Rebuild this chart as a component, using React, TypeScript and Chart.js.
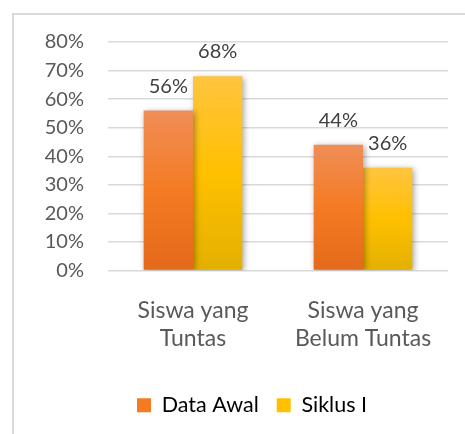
import React, { useEffect, useRef } from "react";
import { Chart, registerables } from "chart.js";

Chart.register(...registerables);

const categories: string[][] = [["Siswa yang", "Tuntas"], ["Siswa yang", "Belum Tuntas"]];
const seriesNames = ["Data Awal", "Siklus I"];
const dataAwal = [0.56, 0.44];
const siklus1 = [0.68, 0.36];
const yMin = 0;
const yMax = 0.8;
const yStep = 0.1;

const FONT = "Lato, 'Open Sans', sans-serif";

const gradStops = [
  ["#F08D58", "#F47B22", "#E4691B"],
  ["#FFC43F", "#FFC000", "#E3B000"],
];

function makeGradient(ctx: any, dsIndex: number) {
  const chart = ctx.chart;
  const stops = gradStops[dsIndex];
  if (!chart.chartArea || ctx.raw === undefined) return stops[1];
  const ys = chart.scales.y;
  const top = ys.getPixelForValue(ctx.raw);
  const bottom = ys.getPixelForValue(0);
  const g = chart.ctx.createLinearGradient(0, top, 0, bottom);
  g.addColorStop(0, stops[0]);
  g.addColorStop(0.5, stops[1]);
  g.addColorStop(1, stops[2]);
  return g;
}

const framePlugin = {
  id: "frame",
  beforeDraw(chart: any) {
    const c = chart.ctx;
    c.save();
    c.fillStyle = "#ffffff";
    c.fillRect(0, 0, chart.width, chart.height);
    c.strokeStyle = "#D9D9D9";
    c.lineWidth = 2;
    c.beginPath();
    c.moveTo(13, chart.height + 5);
    c.lineTo(13, 14);
    c.lineTo(chart.width + 5, 14);
    c.stroke();
    c.restore();
  },
};

const legendShiftPlugin = {
  id: "legendShift",
  afterLayout(chart: any) {
    const lg = chart.legend;
    if (lg) {
      lg.left += 28;
      lg.right += 28;
    }
  },
};

const shadowPlugin = {
  id: "barShadow",
  beforeDatasetsDraw(chart: any) {
    const c = chart.ctx;
    c.save();
    c.shadowColor = "rgba(0,0,0,0.35)";
    c.shadowBlur = 6;
    c.shadowOffsetX = 1.5;
    c.shadowOffsetY = 1.5;
  },
  afterDatasetsDraw(chart: any) {
    chart.ctx.restore();
  },
};

const labelPlugin = {
  id: "valueLabels",
  afterDatasetsDraw(chart: any) {
    const c = chart.ctx;
    c.save();
    c.font = `20px ${FONT}`;
    c.fillStyle = "#404040";
    c.textAlign = "center";
    c.textBaseline = "alphabetic";
    chart.data.datasets.forEach((ds: any, i: number) => {
      const meta = chart.getDatasetMeta(i);
      meta.data.forEach((el: any, j: number) => {
        const v = ds.data[j];
        c.fillText(`${Math.round(v * 100)}%`, el.x, el.y - 18);
      });
    });
    c.restore();
  },
};

export default function App() {
  const ref = useRef<HTMLCanvasElement | null>(null);
  useEffect(() => {
    if (!ref.current) return;
    const chart = new Chart(ref.current, {
      type: "bar",
      data: {
        labels: categories,
        datasets: [
          {
            label: seriesNames[0],
            data: dataAwal,
            backgroundColor: (ctx: any) => makeGradient(ctx, 0),
            borderWidth: 0,
          },
          {
            label: seriesNames[1],
            data: siklus1,
            backgroundColor: (ctx: any) => makeGradient(ctx, 1),
            borderWidth: 0,
          },
        ],
      },
      options: {
        animation: false,
        responsive: false,
        devicePixelRatio: 1,
        layout: { padding: { left: 0, right: 17, top: 42, bottom: 8 } },
        datasets: { bar: { categoryPercentage: 0.58, barPercentage: 1 } },
        plugins: {
          legend: {
            position: "bottom",
            labels: {
              boxWidth: 14,
              boxHeight: 14,
              padding: 18,
              color: "#595959",
              font: { family: FONT, size: 21.5 },
              generateLabels: (chart: any) =>
                chart.data.datasets.map((ds: any, i: number) => ({
                  text: ds.label,
                  fillStyle: gradStops[i][1],
                  strokeStyle: gradStops[i][1],
                  lineWidth: 0,
                  hidden: false,
                  datasetIndex: i,
                })),
            },
          },
          tooltip: { enabled: false },
        },
        scales: {
          x: {
            grid: { display: false },
            border: { display: false },
            afterFit: (s: any) => {
              s.height += 6;
            },
            ticks: {
              color: "#595959",
              font: { family: FONT, size: 23, lineHeight: "28px" },
              padding: 18,
              maxRotation: 0,
            },
          },
          y: {
            min: yMin,
            max: yMax,
            afterFit: (s: any) => {
              s.width = 108;
            },
            grid: { color: "#D9D9D9", lineWidth: 1.5, drawTicks: false },
            border: { display: false },
            ticks: {
              stepSize: yStep,
              color: "#595959",
              font: { family: FONT, size: 20 },
              padding: 24,
              callback: (v: any) => `${Math.round(Number(v) * 100)}%`,
            },
          },
        },
      },
      plugins: [framePlugin, legendShiftPlugin, shadowPlugin, labelPlugin],
    });
    return () => chart.destroy();
  }, []);
  return (
    <div style={{ position: "absolute", left: 0, top: 0, width: 465, height: 434 }}>
      <canvas ref={ref} width={465} height={434} />
    </div>
  );
}
